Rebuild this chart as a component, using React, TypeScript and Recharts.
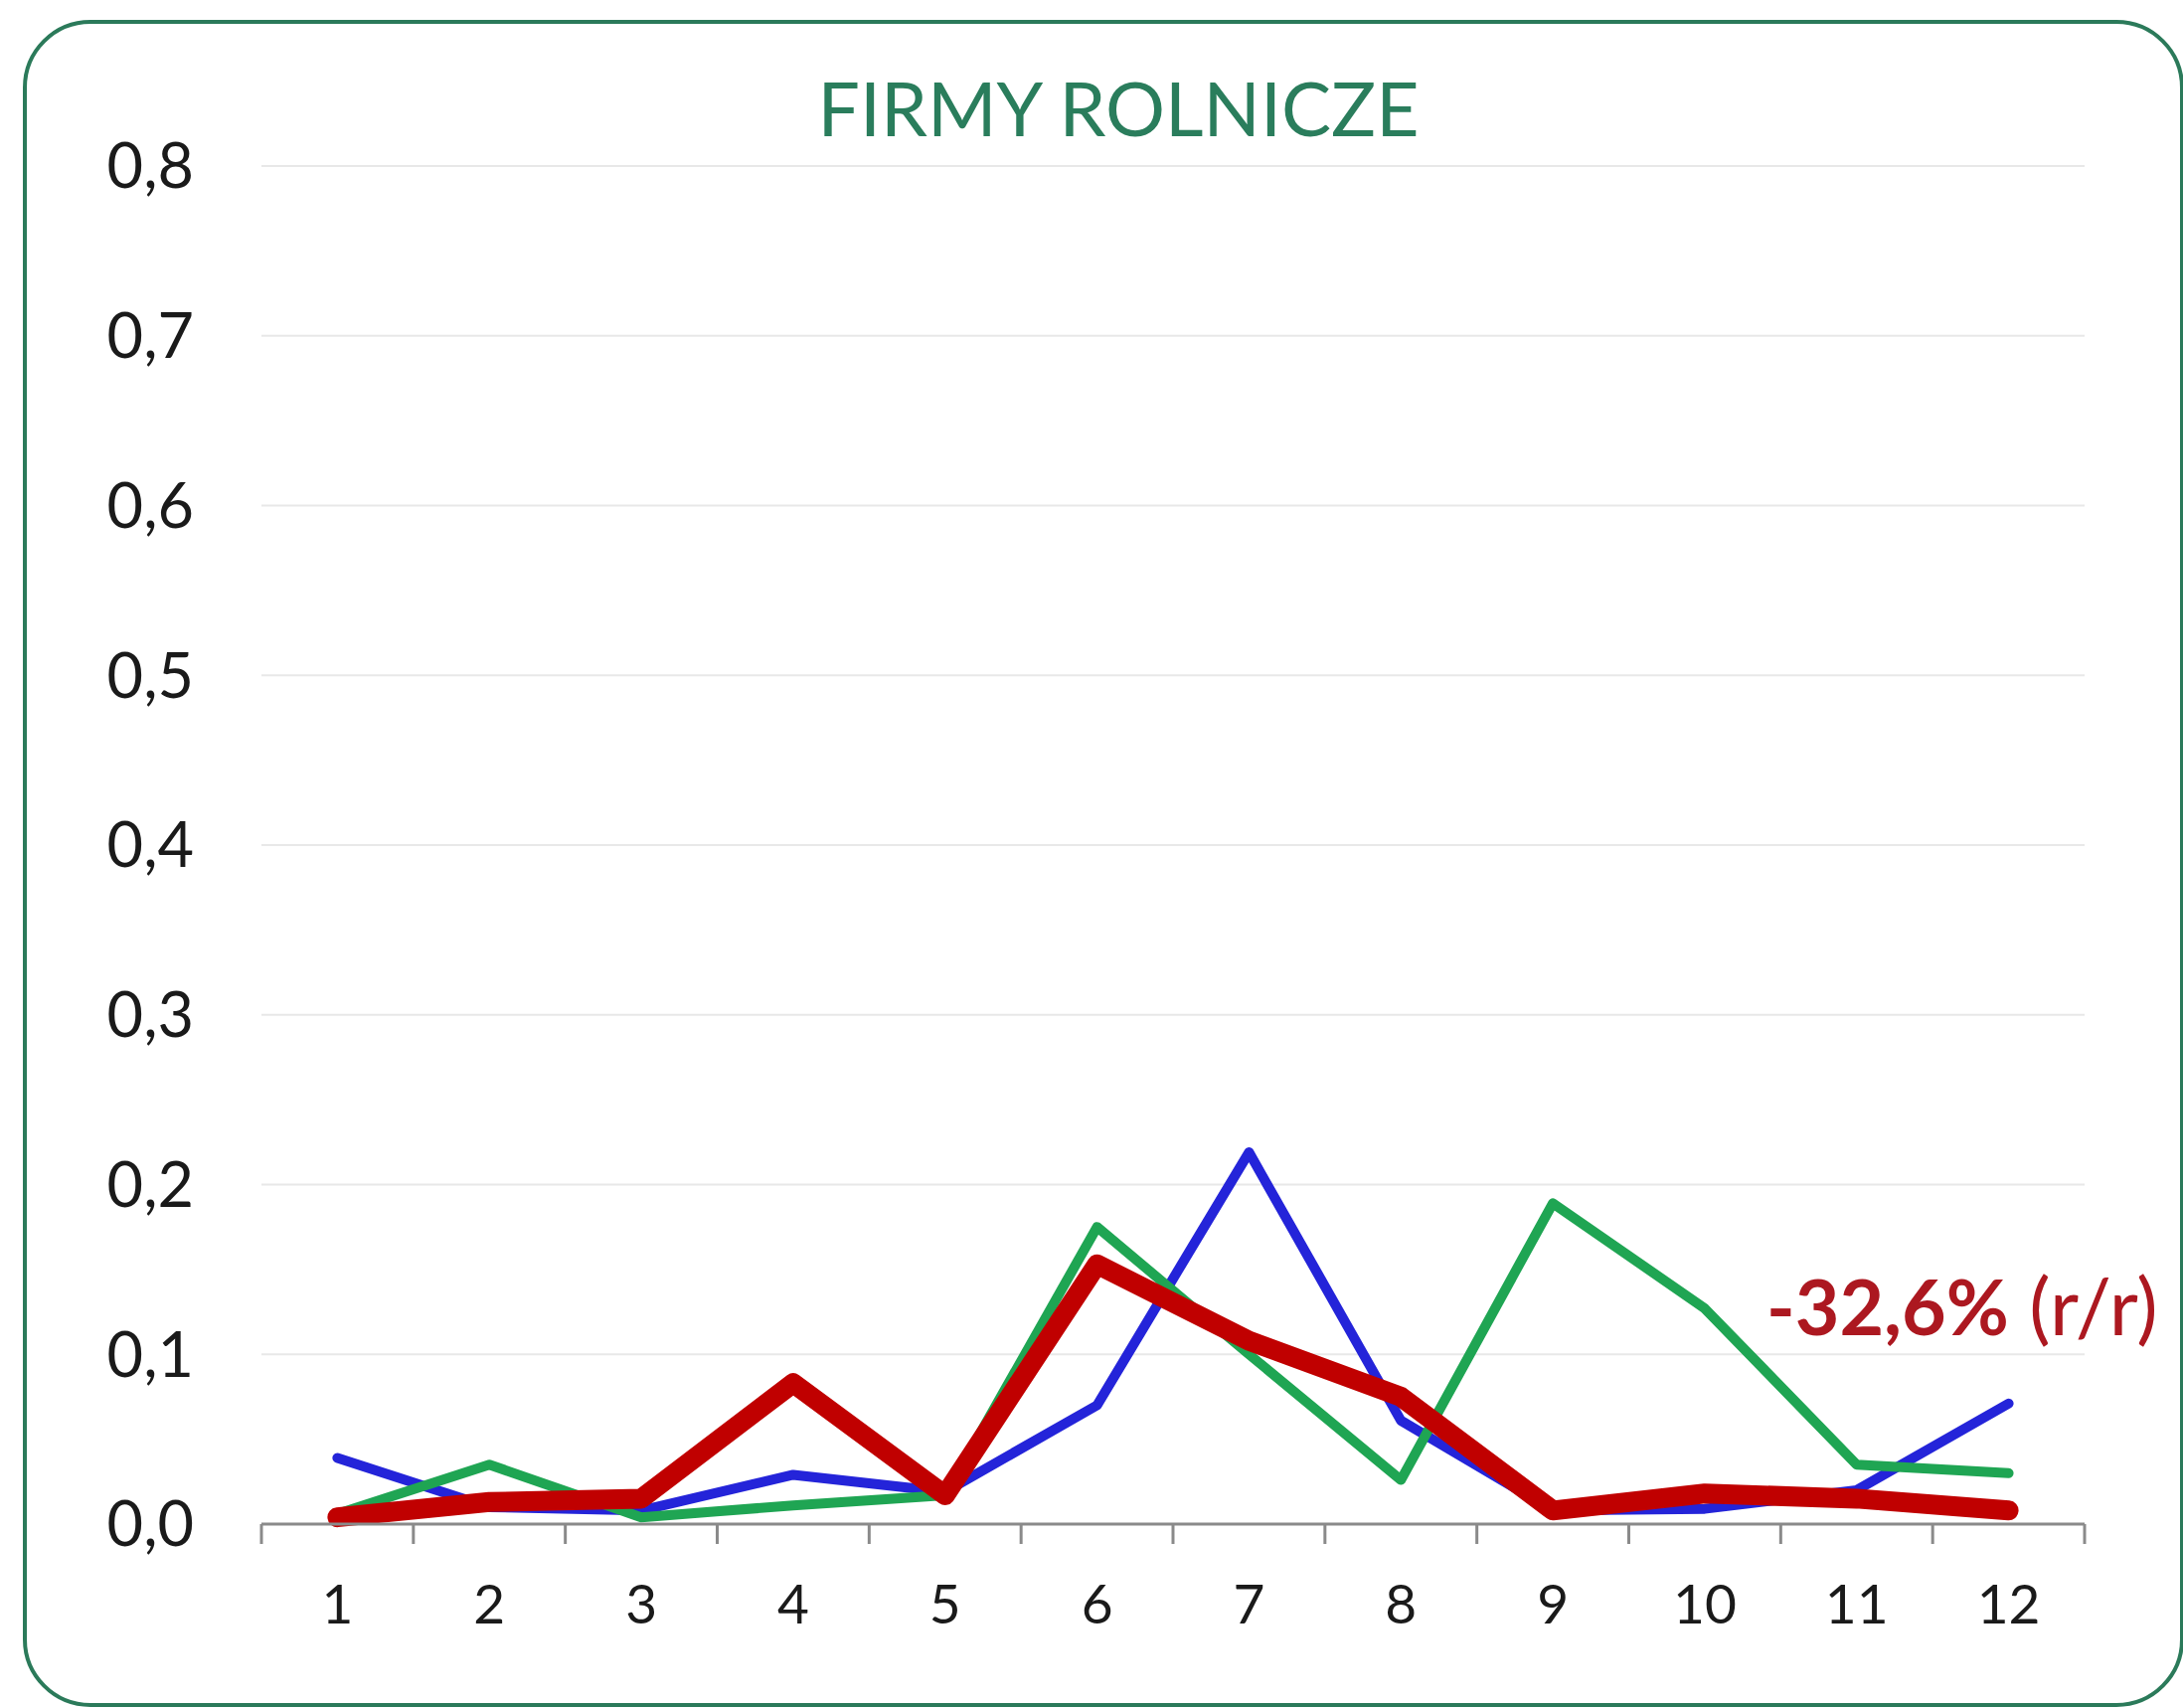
import { LineChart, Line, XAxis, YAxis, CartesianGrid } from 'recharts'

const MONTHS = [1, 2, 3, 4, 5, 6, 7, 8, 9, 10, 11, 12]
const BLUE = [0.039, 0.01, 0.008, 0.029, 0.019, 0.07, 0.219, 0.061, 0.008, 0.009, 0.02, 0.071]
const GREEN = [0.006, 0.035, 0.004, 0.011, 0.017, 0.175, 0.1, 0.026, 0.189, 0.127, 0.035, 0.03]
const RED = [0.004, 0.013, 0.015, 0.083, 0.017, 0.153, 0.108, 0.075, 0.008, 0.018, 0.015, 0.008]
const Y_TICKS = [0, 0.1, 0.2, 0.3, 0.4, 0.5, 0.6, 0.7, 0.8]
const TITLE = 'FIRMY ROLNICZE'
const NOTE_BOLD = '-32,6%'
const NOTE_REST = '(r/r)'

const data = MONTHS.map((m, i) => ({ m, blue: BLUE[i], green: GREEN[i], red: RED[i] }))
// labels at months, tick marks on the boundaries between months
const xTicks = [0.5, ...MONTHS.flatMap(m => [m, m + 0.5])]

const FONT = 'Lato, "Open Sans", sans-serif'

function MonthTick({ x, y, payload }: any) {
  const v = payload.value
  if (Number.isInteger(v)) {
    return (
      <text x={x} y={y + 100} textAnchor="middle" fontSize={55} fill="#1a1a1a" fontFamily={FONT}>
        {v}
      </text>
    )
  }
  return <line x1={x} x2={x} y1={y} y2={y + 20} stroke="#8a8a8a" strokeWidth={3} />
}

export default function App() {
  return (
    <div style={{ position: 'absolute', left: 0, top: 0, width: 2196, height: 1718, background: '#fff' }}>
      <div style={{
        position: 'absolute', left: 23, top: 20, width: 2166, height: 1689,
        border: '4px solid #2b7a5a', borderRadius: 68,
      }} />
      <div style={{
        position: 'absolute', left: 0, width: 2250, top: 71, textAlign: 'center',
        fontFamily: FONT, fontSize: 75, lineHeight: 1, color: '#2a7d5c',
      }}>
        {TITLE}
      </div>
      <LineChart width={2196} height={1718} data={data}
        margin={{ top: 167, right: 99, left: 0, bottom: 65 }}>
        <CartesianGrid vertical={false} stroke="#e8e8e8" strokeWidth={2} />
        <XAxis dataKey="m" type="number" domain={[0.5, 12.5]} ticks={xTicks} interval={0}
          height={120} tickSize={0} tickMargin={0} tickLine={false}
          axisLine={{ stroke: '#8a8a8a', strokeWidth: 3 }} tick={<MonthTick />} />
        <YAxis domain={[0, 0.8]} ticks={Y_TICKS} width={263} axisLine={false} tickLine={false}
          tickSize={0} tickMargin={68}
          tickFormatter={(v: number) => v.toFixed(1).replace('.', ',')}
          tick={{ fontSize: 63, fill: '#1a1a1a', fontFamily: FONT }} />
        <Line dataKey="blue" stroke="#2424d9" strokeWidth={10} dot={false}
          strokeLinejoin="round" strokeLinecap="round" isAnimationActive={false} />
        <Line dataKey="green" stroke="#1fa553" strokeWidth={10} dot={false}
          strokeLinejoin="round" strokeLinecap="round" isAnimationActive={false} />
        <Line dataKey="red" stroke="#c00000" strokeWidth={20} dot={false}
          strokeLinejoin="round" strokeLinecap="round" isAnimationActive={false} />
      </LineChart>
      <div style={{
        position: 'absolute', left: 1777, top: 1272, fontFamily: FONT, fontSize: 77,
        lineHeight: 1, color: '#ac1820', whiteSpace: 'nowrap',
      }}>
        <span style={{ fontWeight: 700 }}>{NOTE_BOLD}</span>
        <span style={{ fontSize: 80 }}> {NOTE_REST}</span>
      </div>
    </div>
  )
}
